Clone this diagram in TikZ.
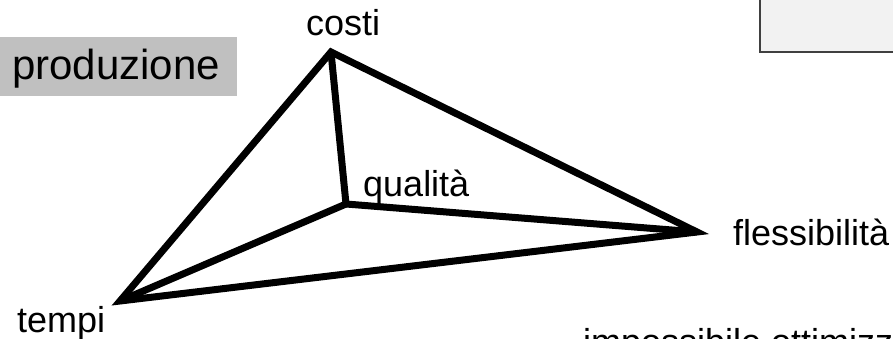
\documentclass[tikz,border=0pt]{standalone}
\usepackage{fontspec}
\setmainfont{Liberation Sans}
\definecolor{boxgray}{HTML}{C0C0C0}
\definecolor{boxlight}{HTML}{F2F2F2}

\begin{document}
\begin{tikzpicture}[x=1pt, y=-1pt,
		lbl/.style={font=\fontsize{36}{43}\selectfont, inner sep=0pt, anchor=base west},
		edge/.style={line width=7pt, line join=miter}]
		\useasboundingbox (0, 0) rectangle (893, 339);
		\clip (0, 0) rectangle (893, 339);

		\coordinate (C) at (331, 52);
		\coordinate (Q) at (346, 204);
		\coordinate (F) at (697, 232);
		\coordinate (T) at (120, 301);

		\filldraw[fill=boxlight, draw=black!75, line width=2.5pt] (760, -10) rectangle (910, 52);
		\fill[boxgray] (0, 37) rectangle (237, 96);

		\draw[edge] (T) -- (C) -- (F) -- cycle;
		\draw[edge] (C) -- (Q) -- (F);
		\draw[edge] (Q) -- (T);

		\node[lbl, font=\fontsize{42}{50}\selectfont] (prod) at (12, 80) {produzione};
		\node[lbl] (costi) at (306, 36) {costi};
		\node[lbl] (qual) at (363, 196) {qualità};
		\node[lbl] (fless) at (733, 245) {flessibilità};
		\node[lbl] (tempi) at (17, 332) {tempi};
		\node[lbl] (imposs) at (583, 354) {impossibile ottimizz};
	\end{tikzpicture}
\end{document}
